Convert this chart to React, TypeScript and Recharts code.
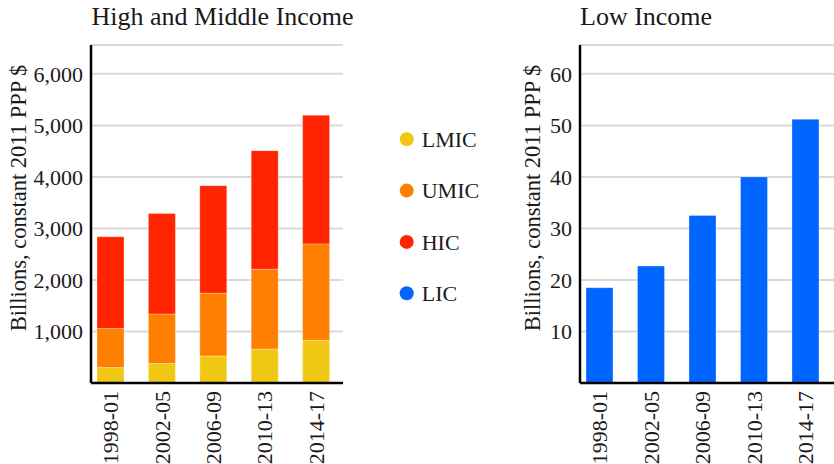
import React from 'react';
import { BarChart, Bar, XAxis, YAxis, CartesianGrid } from 'recharts';

const periods = ['1998-01', '2002-05', '2006-09', '2010-13', '2014-17'];
const lmic = [300, 378, 523, 660, 830];
const umic = [760, 962, 1222, 1550, 1870];
const hic = [1777, 1948, 2085, 2300, 2496];
const lic = [18.5, 22.7, 32.5, 40.0, 51.2];
const leftTicks = [1000, 2000, 3000, 4000, 5000, 6000];
const rightTicks = [10, 20, 30, 40, 50, 60];
const seriesNames = ['LMIC', 'UMIC', 'HIC', 'LIC'];
const seriesColors = ['#F0C814', '#FF7F00', '#FF2500', '#0066FF'];
const yLabel = 'Billions, constant 2011 PPP $';
const titles = ['High and Middle Income', 'Low Income'];

const FONT = '"Liberation Serif", "DejaVu Serif", serif';
const TEXT = '#1a1a1a';

const leftData = periods.map((p, i) => ({ period: p, LMIC: lmic[i], UMIC: umic[i], HIC: hic[i] }));
const rightData = periods.map((p, i) => ({ period: p, LIC: lic[i] }));

const XTick = (props: any) => {
  const { x, y, payload } = props;
  return (
    <text
      x={x}
      y={y}
      dy="0.34em"
      transform={`rotate(-90, ${x}, ${y})`}
      textAnchor="end"
      fill={TEXT}
      fontSize={22}
      fontFamily={FONT}
    >
      {payload.value}
    </text>
  );
};

const fmt = (v: number) => v.toLocaleString('en-US');

const tickStyle = { fill: TEXT, fontSize: 22, fontFamily: FONT };

export default function App() {
  return (
    <div style={{ position: 'absolute', left: 0, top: 0, width: 834, height: 464, background: '#fff', overflow: 'hidden' }}>
      <div style={{ position: 'absolute', left: 0, top: 0 }}>
        <BarChart width={343} height={464} data={leftData} margin={{ top: 45, right: 0, bottom: 0, left: 0 }}>
          <CartesianGrid horizontal vertical={false} stroke="#d9d9d9" strokeWidth={2} />
          <XAxis
            dataKey="period"
            height={81}
            padding={{ left: -6, right: 1 }}
            axisLine={{ stroke: '#000', strokeWidth: 2.5 }}
            tickLine={false}
            tick={<XTick />}
            interval={0}
          />
          <YAxis
            width={91}
            domain={[0, 6560]}
            ticks={leftTicks}
            tickFormatter={fmt}
            axisLine={{ stroke: '#000', strokeWidth: 2.5 }}
            tickLine={false}
            tick={tickStyle}
            allowDataOverflow
          />
          <Bar dataKey="LMIC" stackId="a" fill={seriesColors[0]} barSize={27} stroke="#ffffff" strokeOpacity={0.3} strokeWidth={1} isAnimationActive={false} />
          <Bar dataKey="UMIC" stackId="a" fill={seriesColors[1]} barSize={27} stroke="#ffffff" strokeOpacity={0.3} strokeWidth={1} isAnimationActive={false} />
          <Bar dataKey="HIC" stackId="a" fill={seriesColors[2]} barSize={27} stroke="#ffffff" strokeOpacity={0.3} strokeWidth={1} isAnimationActive={false} />
        </BarChart>
      </div>
      <div style={{ position: 'absolute', left: 500, top: 0 }}>
        <BarChart width={334} height={464} data={rightData} margin={{ top: 45, right: 0, bottom: 0, left: 0 }}>
          <CartesianGrid horizontal vertical={false} stroke="#d9d9d9" strokeWidth={2} />
          <XAxis
            dataKey="period"
            height={81}
            padding={{ left: -6, right: 2.5 }}
            axisLine={{ stroke: '#000', strokeWidth: 2.5 }}
            tickLine={false}
            tick={<XTick />}
            interval={0}
          />
          <YAxis
            width={80}
            domain={[0, 65.6]}
            ticks={rightTicks}
            axisLine={{ stroke: '#000', strokeWidth: 2.5 }}
            tickLine={false}
            tick={tickStyle}
            allowDataOverflow
          />
          <Bar dataKey="LIC" fill={seriesColors[3]} barSize={27} stroke="#ffffff" strokeOpacity={0.3} strokeWidth={1} isAnimationActive={false} />
        </BarChart>
      </div>
      <svg width={834} height={464} style={{ position: 'absolute', left: 0, top: 0, pointerEvents: 'none' }}>
        <text x={91.5} y={25} fontSize={26} fontFamily={FONT} fill={TEXT}>{titles[0]}</text>
        <text x={580} y={25} fontSize={26} fontFamily={FONT} fill={TEXT}>{titles[1]}</text>
        <text x={18} y={198} dy="0.35em" transform="rotate(-90, 18, 198)" textAnchor="middle" fontSize={22.5} fontFamily={FONT} fill={TEXT}>{yLabel}</text>
        <text x={532} y={198} dy="0.35em" transform="rotate(-90, 532, 198)" textAnchor="middle" fontSize={22.5} fontFamily={FONT} fill={TEXT}>{yLabel}</text>
        {seriesNames.map((name, i) => (
          <g key={name}>
            <circle cx={406.7} cy={139.3 + i * 51.3} r={7} fill={seriesColors[i]} />
            <text x={421.7} y={139.3 + i * 51.3} dy="0.35em" fontSize={22} fontFamily={FONT} fill={TEXT}>{name}</text>
          </g>
        ))}
      </svg>
    </div>
  );
}
